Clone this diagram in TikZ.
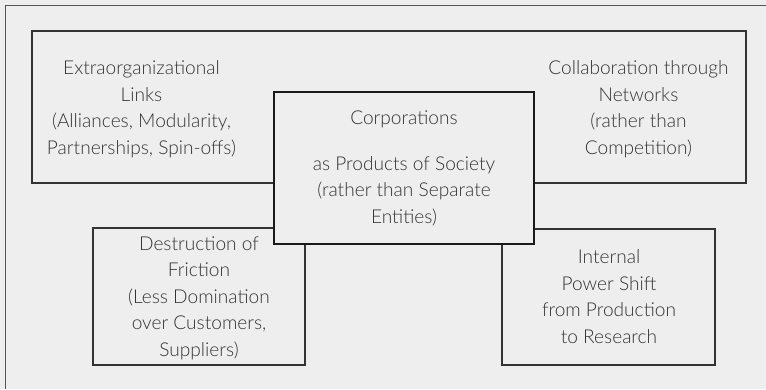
\documentclass[tikz,border=0pt]{standalone}
\usepackage{fontspec}
\setmainfont{Lato Light}
\definecolor{paper}{HTML}{EEEEEE}
\definecolor{rule}{HTML}{333333}
\definecolor{frame}{HTML}{555555}
\definecolor{ink}{HTML}{333333}
\begin{document}
\begin{tikzpicture}[x=1pt,y=-1pt,
  panel/.style={rectangle, draw=rule, line width=1.3pt, fill=paper, inner sep=0pt},
  core/.style={panel, draw=black!90, line width=2.7pt},
  caption/.style={font=\fontsize{19.1}{26.5}\selectfont, text=ink, align=center,
    inner sep=0pt, anchor=base}]
  % page background and bounds
  \fill[paper] (0,0) rectangle (766,389);
  \useasboundingbox (0,0) rectangle (766,389);
  % outer frame: only its top and left edges fall on the page
  \coordinate (frameTL) at (5.5,5.5);
  \coordinate (frameTR) at (766,5.5);
  \coordinate (frameBL) at (5.5,389);
  \draw[frame, line width=1.2pt] (frameBL) -- (frameTL) -- (frameTR);

  % wide upper panel holding two themes (captions placed by their last baseline)
  \node[panel, minimum width=714pt, minimum height=152pt] (upper) at (389,107) {};
  \node[caption] (links) at (141.5,154)
    {Extraorganizational\\Links\\(Alliances, Modularity,\\Partnerships, Spin-offs)};
  \node[caption] (collab) at (638.5,154)
    {Collaboration through\\Networks\\(rather than\\Competition)};

  % lower panels
  \node[panel, minimum width=212pt, minimum height=137pt] (friction) at (199,296.5) {};
  \node[caption] (frictiontext) at (199,356)
    {Destruction of\\Friction\\(Less Domination\\over Customers,\\Suppliers)};
  \node[panel, minimum width=213pt, minimum height=136pt] (power) at (608.5,297) {};
  \node[caption] (powertext) at (609,343)
    {Internal\\Power Shift\\from Production\\to Research};

  % central panel on top
  \node[core, minimum width=260pt, minimum height=152pt] (corp) at (404,168) {};
  \node[caption] (corptext) at (404,223)
    {Corporations\\[19.5pt]as Products of Society\\(rather than Separate\\Entities)};
\end{tikzpicture}
\end{document}
